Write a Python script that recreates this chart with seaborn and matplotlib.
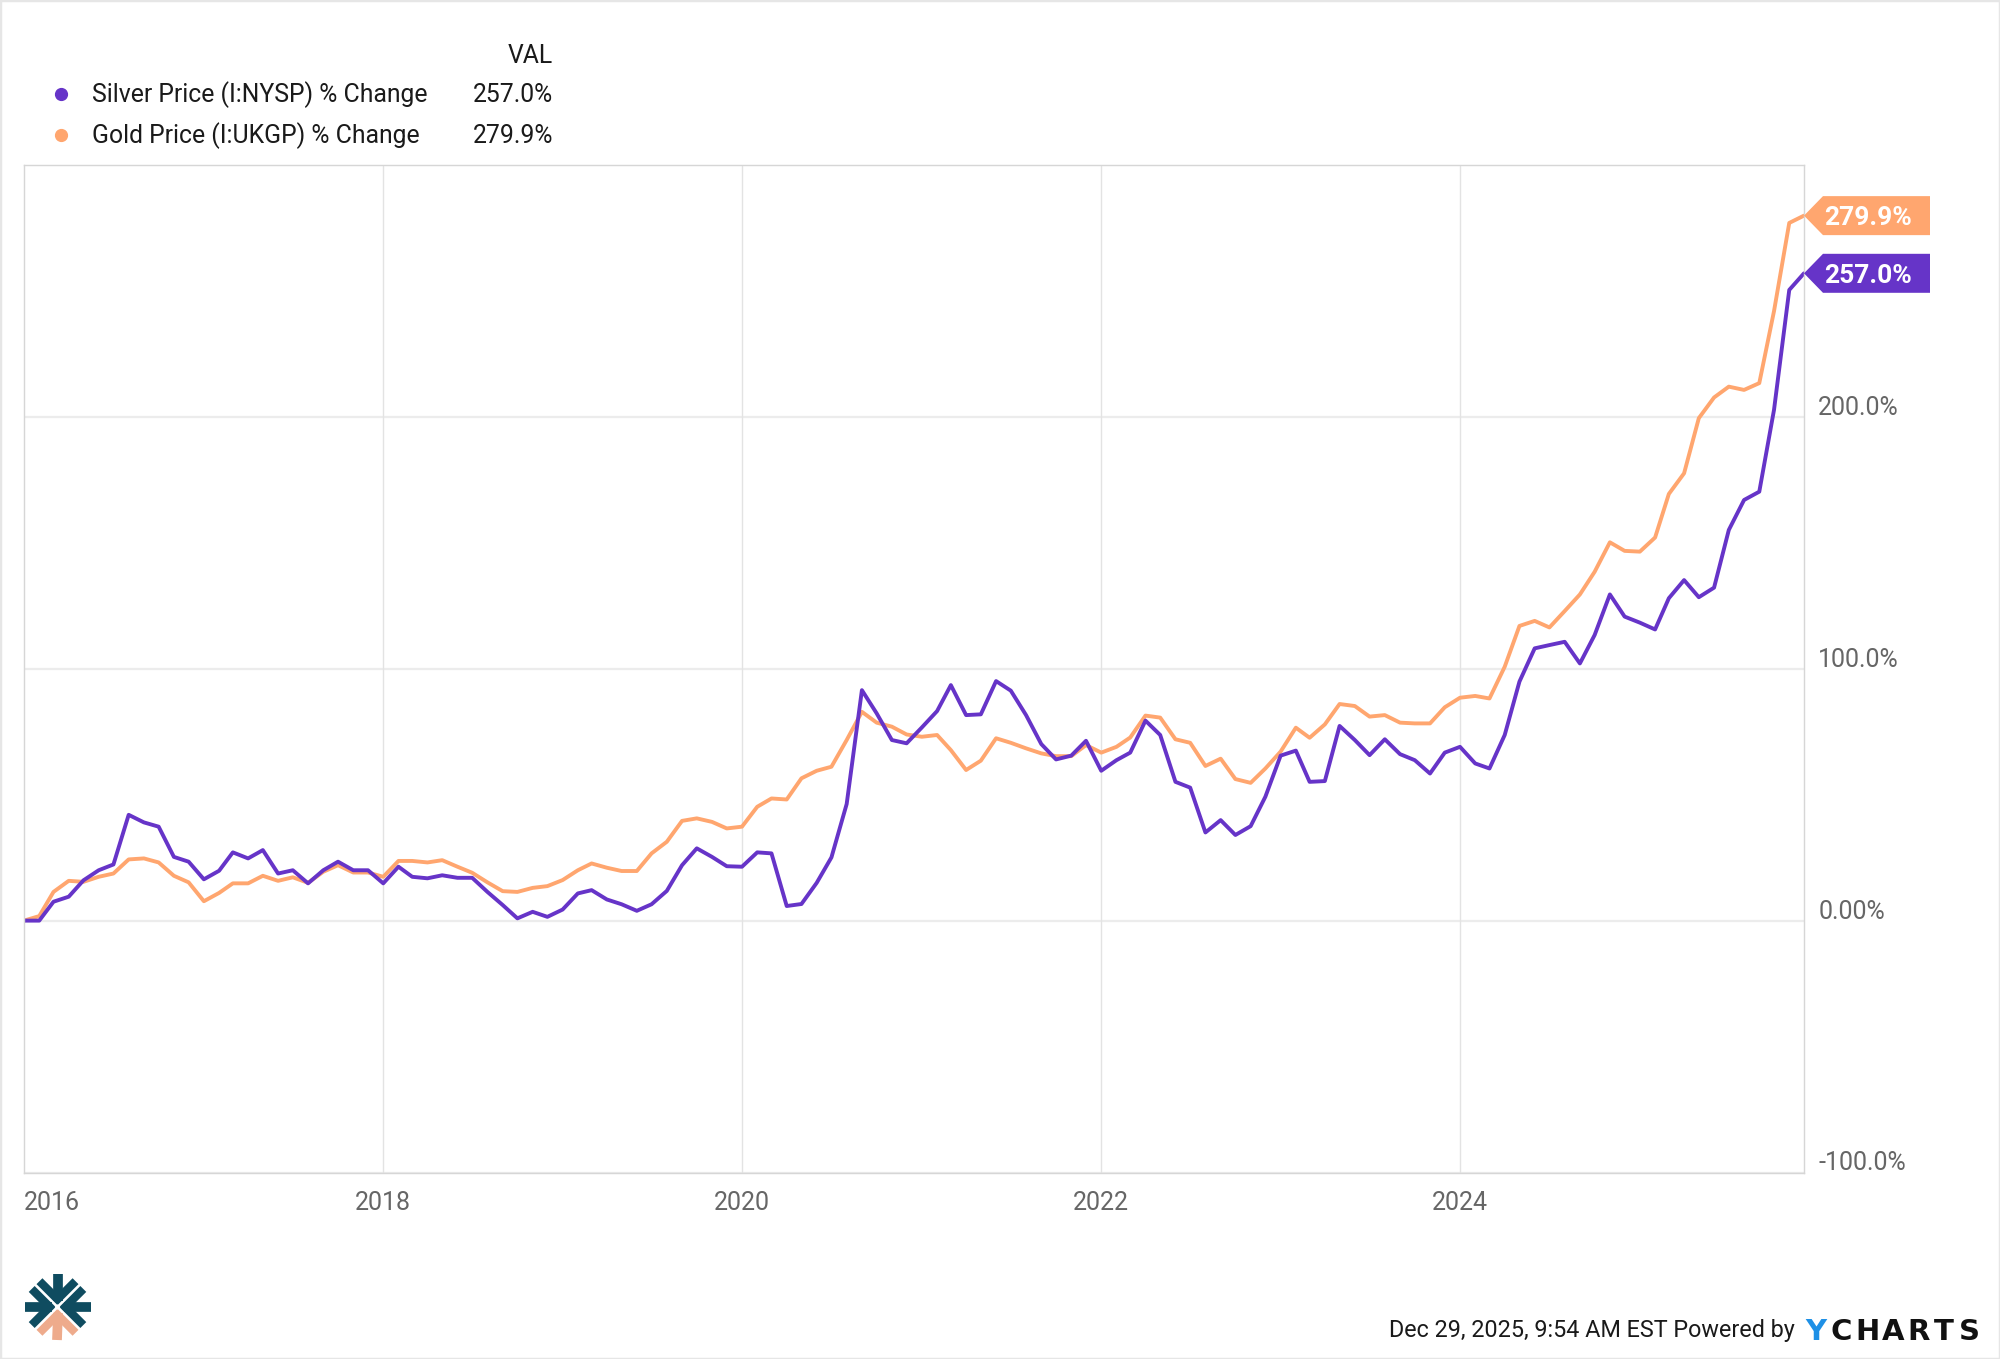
import numpy as np
import pandas as pd
import matplotlib
matplotlib.use("Agg")
import matplotlib.pyplot as plt
import matplotlib.transforms as mtransforms
from matplotlib.patches import Polygon, Rectangle
from matplotlib.lines import Line2D
import seaborn as sns

# --- data: monthly % change since Jan 2016 ---
months = pd.date_range("2016-01-01", periods=120, freq="MS")
silver = [0, 0, 7.5, 9.5, 16, 20, 22.3, 42, 39, 37.3, 25.3, 23.4,
          16.4, 19.8, 27.1, 24.7, 28, 18.7, 20, 14.8, 20, 23.4, 20, 20,
          14.8, 21.4, 17.4, 16.8, 18, 17, 17, 11.4, 6.2, 0.9, 3.5, 1.5,
          4.4, 10.8, 12.1, 8.4, 6.5, 3.9, 6.5, 11.8, 22, 28.7, 25.3, 21.6,
          21.4, 27.1, 26.7, 5.8, 6.6, 15, 25.1, 46.3, 91.5, 82.3, 71.7, 70.4,
          76.7, 83.2, 93.5, 81.6, 81.9, 95.1, 91.3, 81.6, 70.1, 64, 65.5, 71.4,
          59.5, 63.7, 66.7, 79.4, 73.7, 55.1, 52.8, 35, 39.9, 34, 37.5, 49.2,
          65.5, 67.5, 55.1, 55.4, 77.3, 71.7, 65.7, 72.0, 66.1, 63.7, 58.4, 66.7,
          69.0, 62.4, 60.4, 73.7, 94.9, 108.1, 109.4, 110.7, 102.1, 113.4, 129.5, 120.7,
          118.3, 115.6, 128, 135.2, 128.4, 132.2, 155.1, 167, 170.3, 202.8, 250.4, 257.0]
gold = [0, 1.8, 11.4, 15.8, 15.4, 17.4, 18.7, 24.3, 24.7, 23.1, 17.8, 15.2,
        7.7, 11, 14.8, 14.8, 17.8, 15.8, 17.2, 15, 19.4, 22, 19.1, 19.1,
        17.4, 23.7, 23.7, 23.1, 24, 21.4, 19, 15.2, 11.7, 11.4, 13, 13.7,
        16.1, 20, 22.7, 21, 19.7, 19.7, 26.7, 31.3, 39.6, 40.6, 39.2, 36.6,
        37.3, 45.2, 48.5, 48.1, 56.5, 59.5, 61.1, 71.7, 82.9, 78.6, 77, 73.9,
        73, 73.7, 67.7, 59.8, 63.5, 72.4, 70.6, 68.4, 66.4, 65.3, 65.3, 69.7,
        66.7, 69, 72.7, 81.4, 80.6, 72, 70.6, 61.4, 64.3, 56.2, 54.7, 60.4,
        67.1, 76.6, 72.6, 77.9, 86, 85.2, 81, 81.6, 78.6, 78.3, 78.3, 84.7,
        88.5, 89.2, 88.2, 100.8, 117, 119, 116.4, 122.9, 129.5, 138.5, 150.2, 146.8,
        146.5, 152.1, 169.4, 177.6, 199.5, 207.7, 212, 210.7, 213.4, 242, 277, 279.9]

series_names = ["Silver Price (I:NYSP) % Change", "Gold Price (I:UKGP) % Change"]
series_vals = ["257.0%", "279.9%"]
series_colors = ["#6634c8", "#ffa66f"]
y_ticks = [-100, 0, 100, 200]
y_tick_labels = ["-100.0%", "0.00%", "100.0%", "200.0%"]
x_years = [2016, 2018, 2020, 2022, 2024]
footer = "Dec 29, 2025, 9:54 AM EST Powered by"

sns.set_theme(style="white")
plt.rcParams["font.family"] = ["Roboto", "DejaVu Sans"]

W, H = 2000, 1359
fig = plt.figure(figsize=(W / 100, H / 100), dpi=100)
fig.patch.set_facecolor("white")


def fx(x):
    return x / W


def fy(y):
    return 1 - y / H


ax = fig.add_axes([fx(24), fy(1172.5), fx(1804 - 24), (1172.5 - 165) / H])

df = pd.DataFrame({"Month": months, "Silver": silver, "Gold": gold})
sns.lineplot(data=df, x="Month", y="Gold", color=series_colors[1], lw=2.8, ax=ax)
sns.lineplot(data=df, x="Month", y="Silver", color=series_colors[0], lw=2.8, ax=ax)

ax.set_xlim(months[0], months[-1])
ax.set_ylim(-100, 300)
ax.set_xlabel("")
ax.set_ylabel("")
ax.set_xticks([])
ax.set_yticks([])
for s in ax.spines.values():
    s.set_color("#d6d6d6")
    s.set_linewidth(1)

# --- grid ---
for v in y_ticks:
    ax.axhline(v, color="#ececec", lw=1.6, zorder=0)
for yr in x_years[1:]:
    ax.axvline(pd.Timestamp(f"{yr}-01-01"), color="#e3e3e3", lw=1, zorder=0)

# --- tick labels ---
ytrans = mtransforms.offset_copy(ax.get_yaxis_transform(), fig=fig, y=2, units="dots")
for v, lab in zip(y_ticks, y_tick_labels):
    ax.text(1.008, v, lab, transform=ytrans, ha="left", va="baseline",
            fontsize=18, color="#666666")
for k, yr in enumerate(x_years):
    ax.text(pd.Timestamp(f"{yr}-01-01"), -0.037, str(yr),
            transform=ax.get_xaxis_transform(), ha="left" if k == 0 else "center",
            va="baseline", fontsize=18, color="#666666")

# --- end-value flags ---
last = [silver[-1], gold[-1]]
for val, lab, col in zip(last, series_vals, series_colors):
    x0, y0 = ax.transData.transform((ax.get_xlim()[1], val))
    pts = [(x0, y0), (x0 + 19, y0 + 19.5), (x0 + 126, y0 + 19.5),
           (x0 + 126, y0 - 19.5), (x0 + 19, y0 - 19.5)]
    fig.add_artist(Polygon(pts, closed=True, facecolor=col, edgecolor="none",
                           transform=None, zorder=5))
    fig.text((x0 + 64) / W, y0 / H, lab, ha="center", va="center_baseline",
             fontsize=19, fontweight="bold", color="white", zorder=6)

# --- legend block ---
fig.text(fx(553), fy(62.7), "VAL", ha="right", va="baseline", fontsize=17.8, color="#1a1a1a")
for row, (name, val, col) in enumerate(zip(series_names, series_vals, series_colors)):
    base = [101.7, 142.7][row]
    fig.add_artist(Line2D([fx(61)], [fy(base - 7.5)], marker="o", ms=8.5, color=col,
                          transform=fig.transFigure))
    fig.text(fx(91.5), fy(base), name, ha="left", va="baseline", fontsize=17.8, color="#1a1a1a")
    fig.text(fx(553), fy(base), val, ha="right", va="baseline", fontsize=17.8, color="#1a1a1a")

# --- footer ---
fig.text(fx(1795), fy(1336.7), footer, ha="right", va="baseline", fontsize=16.8, color="#1a1a1a")
for k, ch in enumerate("YCHARTS"):
    fig.text(fx(1816 + 25.6 * k), fy(1340), ch, ha="center", va="baseline",
             fontsize=21, fontweight="bold", family="DejaVu Sans",
             color="#1e90e6" if k == 0 else "#111111")

# --- logo (rough) ---
cx, cy, R = 57.5, 1307, 33
for ang, col in [(90, "#0f4c60"), (180, "#0f4c60"), (0, "#0f4c60"), (270, "#eeab8c")]:
    t = np.radians(ang)
    fig.add_artist(Line2D([fx(cx + 6 * np.cos(t)), fx(cx + R * np.cos(t))],
                          [fy(cy - 6 * np.sin(t)), fy(cy - R * np.sin(t))],
                          lw=7, color=col, solid_capstyle="butt", transform=fig.transFigure))
    for sgn in (1, -1):
        u = np.radians(ang + sgn * 45)
        n = np.radians(ang - sgn * 45)
        ox, oy = 5.5 * np.cos(n), 5.5 * np.sin(n)
        fig.add_artist(Line2D([fx(cx + ox + 2 * np.cos(u)), fx(cx + ox + 31 * np.cos(u))],
                              [fy(cy - oy - 2 * np.sin(u)), fy(cy - oy - 31 * np.sin(u))],
                              lw=6, color=col, solid_capstyle="butt", transform=fig.transFigure))

# --- outer frame ---
fig.add_artist(Rectangle((0, 0), 1, 1, transform=fig.transFigure, fill=False,
                         edgecolor="#e6e6e6", lw=2.5))

fig.savefig("out.png", dpi=100)
